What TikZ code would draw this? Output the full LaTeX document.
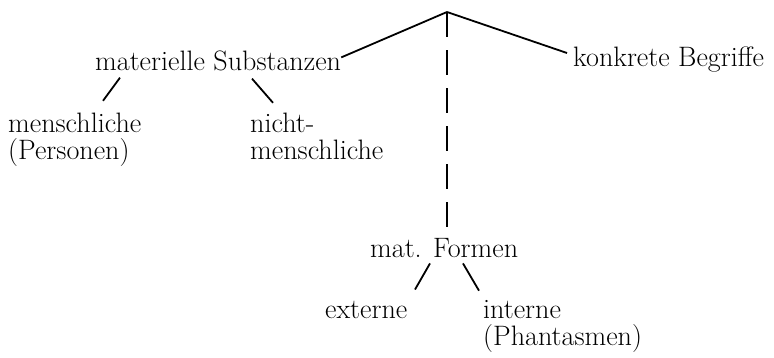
\documentclass[tikz,border=0pt]{standalone}
\usetikzlibrary{positioning}
\begin{document}
\begin{tikzpicture}[x=1pt,y=-1pt,
		term/.style={inner sep=0pt, anchor=base west, align=left, font=\fontsize{28.1}{27.5}\selectfont},
		branch/.style={line width=1.8pt}]
		\useasboundingbox (0,0) rectangle (774,357);
		\coordinate (apex) at (447,12);
		\node[term] (matSub) at (95,70) {materielle Substanzen};
		\node[term] (konkret) at (573,66) {konkrete Begriffe};
		\node[term] (mensch) at (8,159.5) {menschliche\\(Personen)};
		\node[term] (nichtmensch) at (250,159.5) {nicht-\\menschliche};
		\node[term] (matForm) at (370,257) {mat. Formen};
		\node[term] (extern) at (325,318) {externe};
		\node[term] (intern) at (483,345.5) {interne\\(Phantasmen)};
		\draw[branch] (apex) -- ([yshift=3pt]matSub.east);
		\draw[branch] (apex) -- ([xshift=-6pt,yshift=6pt]konkret.west);
		\draw[branch, dash pattern=on 25pt off 13pt, shorten >=9.5pt] (apex) -- (apex |- matForm.north);
		\draw[branch] ([xshift=25pt,yshift=-7pt]matSub.south west) -- ([xshift=95pt,yshift=11.5pt]mensch.north west);
		\draw[branch] ([xshift=157pt,yshift=-8pt]matSub.south west) -- ([xshift=23pt,yshift=9.5pt]nichtmensch.north west);
		\draw[branch] ([xshift=60pt,yshift=-6pt]matForm.south west) -- ([xshift=90pt,yshift=11pt]extern.north west);
		\draw[branch] ([xshift=93pt,yshift=-6pt]matForm.south west) -- ([xshift=-4pt,yshift=9pt]intern.north west);
\end{tikzpicture}
\end{document}
